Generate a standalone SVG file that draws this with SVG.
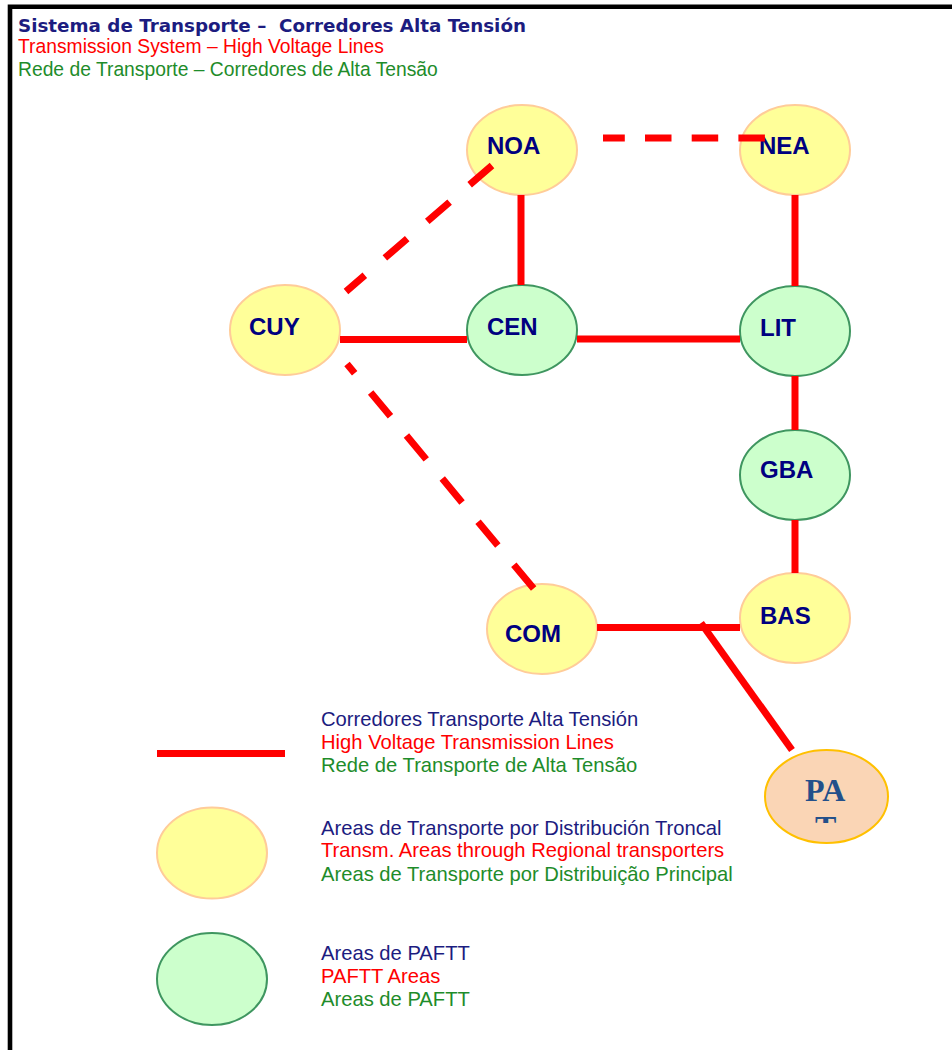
<svg xmlns="http://www.w3.org/2000/svg" width="952" height="1050" viewBox="0 0 952 1050">
<style>
.yel{fill:#FFFF99;stroke:#FFCC99;stroke-width:2}
.grn{fill:#CCFFCC;stroke:#3F9660;stroke-width:2}
.lbl{font-family:"Liberation Sans",Arial,sans-serif;font-weight:bold;font-size:24px;fill:#000080}
.txt{font-family:"Liberation Sans",Arial,sans-serif;font-size:20.2px}
.tt{font-family:"Liberation Sans",Arial,sans-serif;font-size:19.3px}
.nv{fill:#1C1C80}
.rd{fill:#FF0000}
.gr{fill:#1E8C2A}
.ln{stroke:#FF0000;stroke-width:7;fill:none;stroke-linecap:butt}
</style>
<defs>
<clipPath id="patclip"><rect x="760" y="745" width="135" height="78"/></clipPath>
</defs>
<rect width="952" height="1050" fill="#FFFFFF"/>
<path d="M10,1050 V6.7 H952" fill="none" stroke="#000000" stroke-width="4.6"/>
<g id="title">
<text x="18" y="32" font-family="'DejaVu Sans',Verdana,sans-serif" font-weight="bold" font-size="18" fill="#1C1C80" textLength="508" lengthAdjust="spacingAndGlyphs" xml:space="preserve">Sistema de Transporte –  Corredores Alta Tensión</text>
<text x="18" y="53" class="tt rd">Transmission System – High Voltage Lines</text>
<text x="18" y="76" class="tt gr">Rede de Transporte – Corredores de Alta Tensão</text>
</g>
<g id="nodes">
<g id="NOA"><ellipse cx="522" cy="150" rx="55" ry="45" class="yel"/><text x="487" y="154" class="lbl">NOA</text></g>
<g id="NEA"><ellipse cx="795" cy="150" rx="55" ry="45" class="yel"/><text x="759" y="154" class="lbl">NEA</text></g>
<g id="CUY"><ellipse cx="285" cy="330" rx="55" ry="45" class="yel"/><text x="249" y="335" class="lbl">CUY</text></g>
<g id="CEN"><ellipse cx="522" cy="330" rx="55" ry="45" class="grn"/><text x="487" y="335" class="lbl">CEN</text></g>
<g id="LIT"><ellipse cx="795" cy="331" rx="55" ry="45" class="grn"/><text x="760" y="336" class="lbl">LIT</text></g>
<g id="GBA"><ellipse cx="795" cy="475" rx="55" ry="45" class="grn"/><text x="760" y="478" class="lbl">GBA</text></g>
<g id="BAS"><ellipse cx="795" cy="618" rx="55" ry="45" class="yel"/><text x="760" y="624" class="lbl">BAS</text></g>
<g id="COM"><ellipse cx="542" cy="629" rx="55" ry="45" class="yel"/><text x="505" y="642" class="lbl">COM</text></g>
<g id="PAT"><ellipse cx="826.5" cy="796.5" rx="61.5" ry="46.5" fill="#FAD5B5" stroke="#FFC000" stroke-width="2"/>
<g clip-path="url(#patclip)"><text x="805" y="801" font-family="'Liberation Serif','Times New Roman',serif" font-weight="bold" font-size="32" fill="#23508A">PA</text>
<text x="815" y="838" font-family="'Liberation Serif','Times New Roman',serif" font-weight="bold" font-size="32" fill="#23508A">T</text></g></g>
</g>
<g id="connectors">
<line x1="521" y1="195" x2="521" y2="285" class="ln"/>
<line x1="795" y1="195" x2="795" y2="286" class="ln"/>
<line x1="795" y1="376" x2="795" y2="430" class="ln"/>
<line x1="795" y1="520" x2="795" y2="573" class="ln"/>
<line x1="340" y1="339.5" x2="467" y2="339.5" class="ln"/>
<line x1="577" y1="339" x2="740" y2="339" class="ln"/>
<line x1="597" y1="627.5" x2="740" y2="627.5" class="ln"/>
<line x1="701" y1="623" x2="792" y2="750" class="ln"/>
<line x1="603" y1="138" x2="765" y2="138" class="ln" stroke-dasharray="26.5 20.2" stroke-dashoffset="4.7"/>
<line x1="492" y1="165.5" x2="346" y2="291.5" class="ln" stroke-dasharray="29.5 26.5"/>
<line x1="347" y1="364" x2="534" y2="589" class="ln" stroke-dasharray="31 25" stroke-dashoffset="19"/>
</g>
<g id="legend">
<line x1="157" y1="753.5" x2="285" y2="753.5" class="ln"/>
<text x="321" y="726" class="txt nv">Corredores Transporte Alta Tensión</text>
<text x="321" y="749" class="txt rd">High Voltage Transmission Lines</text>
<text x="321" y="772" class="txt gr">Rede de Transporte de Alta Tensão</text>
<ellipse cx="212" cy="853" rx="55" ry="45.5" class="yel"/>
<text x="321" y="835" class="txt nv">Areas de Transporte por Distribución Troncal</text>
<text x="321" y="857" class="txt rd">Transm. Areas through Regional transporters</text>
<text x="321" y="881" class="txt gr">Areas de Transporte por Distribuição Principal</text>
<ellipse cx="212" cy="979" rx="55" ry="46" class="grn"/>
<text x="321" y="960" class="txt nv">Areas de PAFTT</text>
<text x="321" y="983" class="txt rd">PAFTT Areas</text>
<text x="321" y="1006" class="txt gr">Areas de PAFTT</text>
</g>
</svg>
